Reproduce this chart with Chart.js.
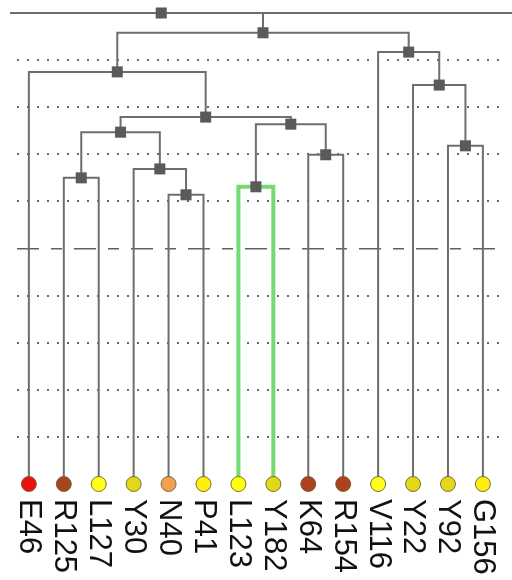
<!DOCTYPE html>
<html>
<head>
<meta charset="utf-8">
<script src="https://cdn.jsdelivr.net/npm/chart.js@4/dist/chart.umd.min.js"></script>
<style>
  html, body { margin: 0; padding: 0; background: #ffffff; }
  #wrap { width: 512px; height: 580px; position: relative; }
</style>
</head>
<body>
<div id="wrap"><canvas id="c"></canvas></div>
<script>
// ---- data ----
const leaves = ['E46','R125','L127','Y30','N40','P41','L123','Y182','K64','R154','V116','Y22','Y92','G156'];
const leafColors = ['#ee1111','#a8441e','#ffff1a','#e2d818','#f0a050','#ffee10','#ffff10','#e2d818','#ae4220','#ae4220','#ffff1a','#e2d818','#e2d818','#ffee10'];
// merges: node ids 0..13 are leaves, merge k creates node id 14+k
const mergeLeft   = [4, 1, 6, 8, 12, 3, 15, 16, 20, 0, 11, 10, 23];
const mergeRight  = [5, 2, 7, 9, 13, 14, 19, 17, 21, 22, 18, 24, 25];
const mergeHeight = [6.14, 6.50, 6.31, 6.99, 7.18, 6.69, 7.47, 7.64, 7.79, 8.75, 8.47, 9.17, 9.58];
const highlighted = [2];
const rootHeight = 10;
const rootX = 3.79;
const rootLineX = [-0.54, 14];
const yTicks = [0, 1, 2, 3, 4, 5, 6, 7, 8, 9, 10];
const cutHeight = 5;

// ---- build tree geometry from the merges ----
const nodeX = leaves.map((_, i) => i);
const nodeH = leaves.map(() => 0);
mergeLeft.forEach((l, k) => {
  const r = mergeRight[k];
  nodeX.push((nodeX[l] + nodeX[r]) / 2);
  nodeH.push(mergeHeight[k]);
});

const datasets = [];
// leaf circles (on top)
datasets.push({
  type: 'scatter',
  data: leaves.map((_, i) => ({x: i, y: 0})),
  pointRadius: 7.5,
  pointHoverRadius: 7.5,
  backgroundColor: leafColors,
  borderColor: 'rgba(100,90,40,0.85)',
  borderWidth: 1,
  order: 0,
  clip: false
});
// node squares
const sq = mergeLeft.map((_, k) => ({x: nodeX[14 + k], y: mergeHeight[k]}));
sq.push({x: rootX, y: rootHeight});
datasets.push({
  type: 'scatter',
  data: sq,
  pointStyle: 'rect',
  pointRadius: 7.8,
  pointHoverRadius: 7.8,
  backgroundColor: '#5a5a5a',
  borderColor: '#5a5a5a',
  borderWidth: 0,
  order: 1,
  clip: false
});
// branches
mergeLeft.forEach((l, k) => {
  const r = mergeRight[k];
  const H = mergeHeight[k];
  const hi = highlighted.includes(k);
  datasets.push({
    type: 'line',
    data: [
      {x: nodeX[l], y: nodeH[l]},
      {x: nodeX[l], y: H},
      {x: nodeX[r], y: H},
      {x: nodeX[r], y: nodeH[r]}
    ],
    borderColor: hi ? '#74da74' : '#6e6e6e',
    borderWidth: hi ? 4 : 2,
    pointRadius: 0,
    tension: 0,
    fill: false,
    order: hi ? 2 : 3,
    clip: false
  });
});
// link from top merge to root line
const topId = nodeX.length - 1;
datasets.push({
  type: 'line',
  data: [{x: nodeX[topId], y: nodeH[topId]}, {x: nodeX[topId], y: rootHeight}],
  borderColor: '#6e6e6e', borderWidth: 2, pointRadius: 0, order: 3, clip: false
});
// root line
datasets.push({
  type: 'line',
  data: [{x: rootLineX[0], y: rootHeight}, {x: rootLineX[1], y: rootHeight}],
  borderColor: '#6e6e6e', borderWidth: 2, pointRadius: 0, order: 3, clip: false
});

const leafLabels = {
  id: 'leafLabels',
  afterDatasetsDraw(chart) {
    const {ctx, scales} = chart;
    ctx.save();
    ctx.fillStyle = '#111111';
    ctx.font = '31px "Liberation Sans", Arial, sans-serif';
    ctx.textAlign = 'left';
    ctx.textBaseline = 'middle';
    leaves.forEach((lab, i) => {
      const x = scales.x.getPixelForValue(i);
      const y = scales.y.getPixelForValue(0) + 15;
      ctx.save();
      ctx.translate(x, y);
      ctx.rotate(Math.PI / 2);
      ctx.fillText(lab, 0, 0);
      ctx.restore();
    });
    ctx.restore();
  }
};

new Chart(document.getElementById('c'), {
  type: 'scatter',
  data: { datasets },
  options: {
    responsive: true,
    maintainAspectRatio: false,
    animation: false,
    layout: { padding: { left: 17, right: 2, top: 13, bottom: 96 } },
    plugins: { legend: { display: false }, tooltip: { enabled: false } },
    events: [],
    scales: {
      x: { type: 'linear', min: -0.34, max: 13.59, display: false },
      y: {
        type: 'linear', min: 0, max: 10,
        afterBuildTicks: (s) => { s.ticks = yTicks.map(v => ({value: v})); },
        ticks: { display: false },
        grid: {
          drawTicks: false,
          lineWidth: (c) => c.tick && c.tick.value === cutHeight ? 1.6 : 2,
          color: (c) => {
            const v = c.tick ? c.tick.value : null;
            if (v === 0 || v === rootHeight) return 'rgba(0,0,0,0)';
            return v === cutHeight ? '#606060' : '#6a6a6a';
          }
        },
        border: {
          display: false,
          dash: (c) => c.tick && c.tick.value === cutHeight ? [22, 12, 11, 12] : [2, 8]
        }
      }
    }
  },
  plugins: [leafLabels]
});
</script>
</body>
</html>
